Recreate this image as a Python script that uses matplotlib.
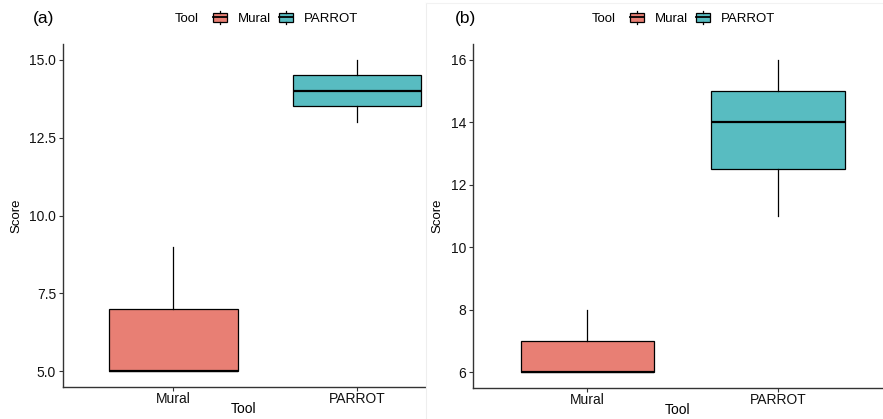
import matplotlib
matplotlib.use("Agg")
import matplotlib.pyplot as plt
from matplotlib.legend_handler import HandlerBase
from matplotlib.patches import Rectangle, Patch
from matplotlib.lines import Line2D

# ---- data ----
tools = ["Mural", "PARROT"]
# five-number summaries: whislo, q1, med, q3, whishi
a_mural = [5, 5, 5, 7, 9]
a_parrot = [13, 13.5, 14, 14.5, 15]
b_mural = [6, 6, 6, 7, 8]
b_parrot = [11, 12.5, 14, 15, 16]
a_yticks = [5.0, 7.5, 10.0, 12.5, 15.0]
a_yticklabels = ["5.0", "7.5", "10.0", "12.5", "15.0"]
b_yticks = [6, 8, 10, 12, 14, 16]
b_yticklabels = ["6", "8", "10", "12", "14", "16"]

colors = ["#E87F74", "#58BCC1"]
FONT = ["Liberation Sans", "DejaVu Sans"]
plt.rcParams["font.family"] = FONT

fig = plt.figure(figsize=(8.83, 4.19), dpi=100)
W, H = 883, 419


def ax_rect(l, r, t, b):
    return [l / W, 1 - b / H, (r - l) / W, (b - t) / H]


class BoxHandler(HandlerBase):
    def create_artists(self, legend, orig_handle, xdescent, ydescent,
                       width, height, fontsize, trans):
        fc = orig_handle.get_facecolor()
        rect = Rectangle((-xdescent, -ydescent), width, height,
                         facecolor=fc, edgecolor="black", lw=0.9, transform=trans)
        med = Line2D([-xdescent, -xdescent + width],
                     [-ydescent + height / 2] * 2, color="black", lw=1.3, transform=trans)
        wl = Line2D([-xdescent + width / 2] * 2, [-ydescent - height * 0.25, -ydescent],
                    color="black", lw=0.9, transform=trans)
        wh = Line2D([-xdescent + width / 2] * 2, [-ydescent + height, -ydescent + height * 1.25],
                    color="black", lw=0.9, transform=trans)
        return [rect, med, wl, wh]


def panel(rect, data, yticks, yticklabels, ylim, xlim, label, label_x, tool_x, leg_x):
    ax = fig.add_axes(rect)
    stats = []
    for name, d in zip(tools, data):
        stats.append(dict(whislo=d[0], q1=d[1], med=d[2], q3=d[3], whishi=d[4], label=name))
    bp = ax.bxp(stats, positions=[1, 2], widths=0.7, patch_artist=True,
                showcaps=False, showfliers=False,
                boxprops=dict(linewidth=0.9, edgecolor="black"),
                whiskerprops=dict(linewidth=0.9, color="black"),
                medianprops=dict(linewidth=1.6, color="black"))
    for p, c in zip(bp["boxes"], colors):
        p.set_facecolor(c)
    ax.set_xlim(*xlim)
    ax.set_ylim(*ylim)
    ax.set_yticks(yticks)
    ax.set_yticklabels(yticklabels, fontsize=10, color="#111111")
    ax.set_xticks([1, 2])
    ax.set_xticklabels(tools, fontsize=10, color="#111111")
    for s in ["top", "right"]:
        ax.spines[s].set_visible(False)
    for s in ["left", "bottom"]:
        ax.spines[s].set_color("#333333")
        ax.spines[s].set_linewidth(1.0)
    ax.tick_params(length=3, width=0.8, color="#333333", pad=2)
    ax.tick_params(axis="x", pad=0.5)
    ax.set_xlabel("Tool", fontsize=10, labelpad=-2.5)
    ax.set_ylabel("Score", fontsize=9.5, labelpad=5)
    fig.text(label_x / W, 1 - 19 / H, label, fontsize=12.5, ha="left", va="center")
    fig.text(tool_x / W, 1 - 19 / H, "Tool", fontsize=9.5, ha="left", va="center")
    handles = [Patch(facecolor=c, label=t) for c, t in zip(colors, tools)]
    fig.legend(handles=handles, labels=tools, handler_map={Patch: BoxHandler()},
               loc="center left", bbox_to_anchor=(leg_x / W, 1 - 19 / H),
               ncol=2, frameon=False, fontsize=9.5, handlelength=1.05, handleheight=0.65,
               handletextpad=0.85, columnspacing=0.6, borderpad=0, borderaxespad=0)
    return ax


panel(ax_rect(63, 425, 44, 387), [a_mural, a_parrot], a_yticks, a_yticklabels,
      (4.5, 15.5), (0.4, 2.37), "(a)", 33, 175, 213)
panel(ax_rect(473, 883, 44, 388), [b_mural, b_parrot], b_yticks, b_yticklabels,
      (5.5, 16.5), (0.4, 2.55), "(b)", 455, 592, 630)

# faint border of the second image
fig.add_artist(Line2D([426 / W, 426 / W], [0, 1 - 3 / H], color="#eeeeee", lw=0.8))
fig.add_artist(Line2D([426 / W, 1], [1 - 3 / H, 1 - 3 / H], color="#f2f2f2", lw=0.8))

fig.savefig("out.png", dpi=100)
